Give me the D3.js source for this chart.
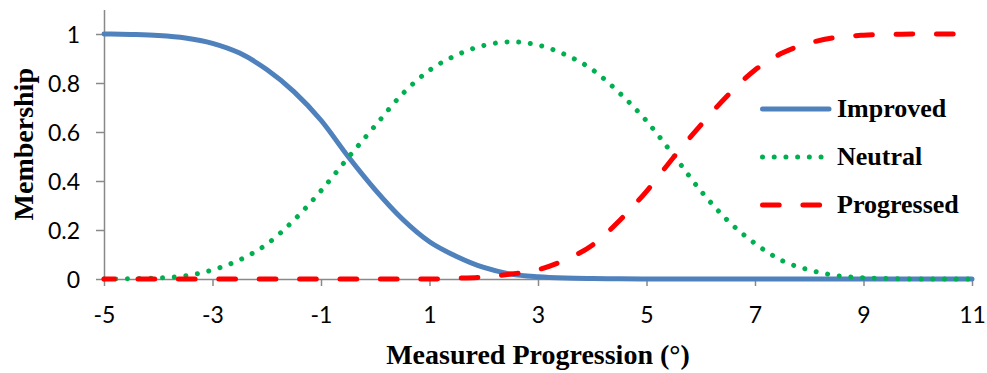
<!DOCTYPE html>
<html>
<head>
<meta charset="utf-8">
<script src="https://cdn.jsdelivr.net/npm/d3@7"></script>
<style>
  html, body { margin: 0; padding: 0; background: #fff; }
  svg { display: block; }
</style>
</head>
<body>
<svg id="chart" width="987" height="373"></svg>
<script>
const xValues = [-5, -4.5, -4, -3.5, -3, -2.5, -2, -1.5, -1, -0.5, 0, 0.5, 1, 1.5, 2, 2.5, 3, 3.5, 4, 4.5, 5, 5.5, 6, 6.5, 7, 7.5, 8, 8.5, 9, 9.5, 10, 10.5, 11];
const improved = [1.0, 0.998, 0.994, 0.984, 0.962, 0.922, 0.855, 0.765, 0.648, 0.5, 0.364, 0.245, 0.152, 0.092, 0.047, 0.02, 0.009, 0.004, 0.002, 0.001, 0, 0, 0, 0, 0, 0, 0, 0, 0, 0, 0, 0, 0];
const neutral = [0, 0.001, 0.004, 0.013, 0.037, 0.078, 0.142, 0.24, 0.36, 0.495, 0.626, 0.755, 0.852, 0.914, 0.953, 0.968, 0.955, 0.916, 0.855, 0.76, 0.645, 0.505, 0.36, 0.238, 0.145, 0.075, 0.037, 0.014, 0.005, 0.002, 0, 0, 0];
const progressed = [0, 0, 0, 0, 0, 0, 0, 0, 0, 0, 0, 0, 0, 0.003, 0.008, 0.02, 0.038, 0.078, 0.138, 0.238, 0.358, 0.497, 0.628, 0.75, 0.853, 0.922, 0.963, 0.986, 0.995, 0.998, 1, 1, 1];
const seriesNames = ["Improved", "Neutral", "Progressed"];
const xTicks = [-5, -3, -1, 1, 3, 5, 7, 9, 11];
const xTickLabels = ["-5", "-3", "-1", "1", "3", "5", "7", "9", "11"];
const yTicks = [0, 0.2, 0.4, 0.6, 0.8, 1];
const yTickLabels = ["0", "0.2", "0.4", "0.6", "0.8", "1"];
const xTitle = "Measured Progression (°)";
const yTitle = "Membership";

const svg = d3.select("#chart");
const x = d3.scaleLinear().domain([-5, 11]).range([104, 972]);
const y = d3.scaleLinear().domain([0, 1.1]).range([279, 9.5]);

const axisColor = "#898989";
const tickFont = "Lato, 'Open Sans', sans-serif";
const titleFont = "'Liberation Serif', 'Times New Roman', serif";

// X axis
const xAxis = svg.append("g").attr("transform", `translate(0,${y(0)})`)
  .call(d3.axisBottom(x).tickValues(xTicks).tickSize(7).tickSizeOuter(0).tickPadding(20)
    .tickFormat((d, i) => xTickLabels[i]));
xAxis.select(".domain").attr("stroke", axisColor).attr("stroke-width", 1.5);
xAxis.selectAll(".tick line").attr("stroke", axisColor).attr("stroke-width", 1.5);
xAxis.selectAll(".tick text").attr("font-family", tickFont).attr("font-size", 23).attr("fill", "#000")
  .attr("dy", null).attr("y", 44);

// Y axis
const yAxis = svg.append("g").attr("transform", `translate(${x(-5)},0)`)
  .call(d3.axisLeft(y).tickValues(yTicks).tickSize(8).tickSizeOuter(0).tickPadding(16)
    .tickFormat((d, i) => yTickLabels[i]));
yAxis.select(".domain").attr("stroke", axisColor).attr("stroke-width", 1.5);
yAxis.selectAll(".tick line").attr("stroke", axisColor).attr("stroke-width", 1.5);
yAxis.selectAll(".tick text").attr("font-family", tickFont).attr("font-size", 23).attr("fill", "#000")
  .attr("dy", "0.36em").attr("x", -24);

// Lines
const line = d3.line().x(d => x(d[0])).y(d => y(d[1])).curve(d3.curveMonotoneX);
const styles = [
  { data: improved, color: "#4F81BD", width: 5, dash: null, offset: 0 },
  { data: neutral, color: "#00B050", width: 5, dash: "0.01 11.7", offset: 0 },
  { data: progressed, color: "#FF0000", width: 5, dash: "16.7 23.7", offset: 6.4 }
];
styles.forEach(s => {
  const pts = xValues.map((xv, i) => [xv, s.data[i]]);
  svg.append("path").attr("d", line(pts)).attr("fill", "none")
    .attr("stroke", s.color).attr("stroke-width", s.width)
    .attr("stroke-linecap", "round").attr("stroke-linejoin", "round")
    .attr("stroke-dasharray", s.dash).attr("stroke-dashoffset", s.offset);
});

// Legend
const legendY = [109, 157, 205];
styles.forEach((s, i) => {
  svg.append("line").attr("x1", 762.5).attr("x2", 829).attr("y1", legendY[i]).attr("y2", legendY[i])
    .attr("stroke", s.color).attr("stroke-width", s.width).attr("stroke-linecap", "round")
    .attr("stroke-dasharray", s.dash);
  svg.append("text").attr("x", 837).attr("y", legendY[i] + 8)
    .attr("font-family", titleFont).attr("font-weight", "bold").attr("font-size", 26)
    .attr("fill", "#000").text(seriesNames[i]);
});

// Axis titles
svg.append("text").attr("x", (x(-5) + x(11)) / 2).attr("y", 363.5).attr("text-anchor", "middle")
  .attr("font-family", titleFont).attr("font-weight", "bold").attr("font-size", 28).attr("fill", "#000")
  .text(xTitle);
svg.append("text").attr("transform", `translate(33,${(y(0) + y(1.1)) / 2}) rotate(-90)`).attr("text-anchor", "middle")
  .attr("font-family", titleFont).attr("font-weight", "bold").attr("font-size", 28).attr("fill", "#000")
  .text(yTitle);
</script>
</body>
</html>
